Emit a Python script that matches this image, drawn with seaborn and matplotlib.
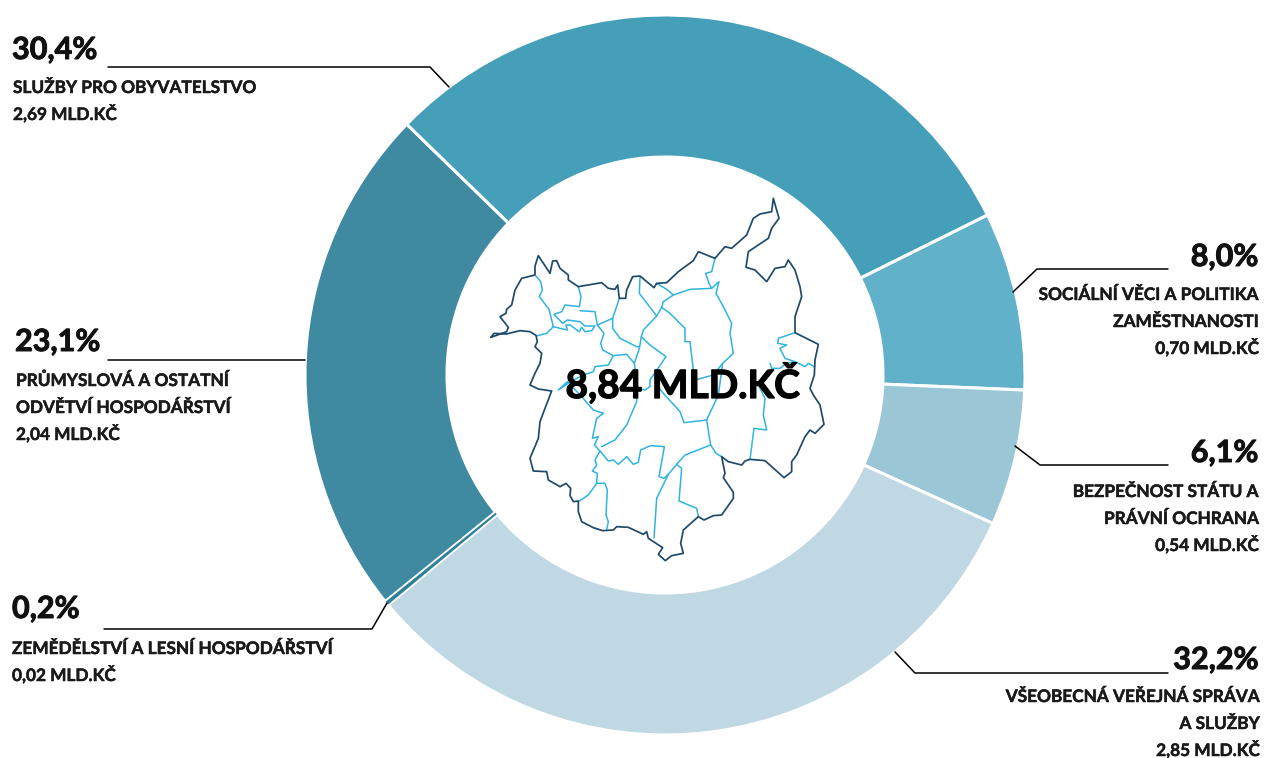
import matplotlib
matplotlib.use("Agg")
import matplotlib.pyplot as plt
import matplotlib.patheffects as pe
import seaborn as sns

W, H = 1265, 758

categories = ["SOCIÁLNÍ VĚCI A POLITIKA\nZAMĚSTNANOSTI", "BEZPEČNOST STÁTU A\nPRÁVNÍ OCHRANA",
              "VŠEOBECNÁ VEŘEJNÁ SPRÁVA\nA SLUŽBY", "ZEMĚDĚLSTVÍ A LESNÍ HOSPODÁŘSTVÍ",
              "PRŮMYSLOVÁ A OSTATNÍ\nODVĚTVÍ HOSPODÁŘSTVÍ", "SLUŽBY PRO OBYVATELSTVO"]
shares = [8.0, 6.1, 32.2, 0.2, 23.1, 30.4]
share_labels = ["8,0%", "6,1%", "32,2%", "0,2%", "23,1%", "30,4%"]
amounts = ["0,70 MLD.KČ", "0,54 MLD.KČ", "2,85 MLD.KČ", "0,02 MLD.KČ", "2,04 MLD.KČ", "2,69 MLD.KČ"]
colors = ["#62B1CB", "#9AC6D6", "#BFD8E3", "#2F7F96", "#3F8AA1", "#459FB8"]
total_label = "8,84 MLD.KČ"

# map outline, traced in zoom-crop units
outline = [(33,442),(42,430),(80,432),(95,428),(120,422),(150,425),(168,436),(172,455),(165,470),(185,490),
           (180,520),(165,550),(150,585),(175,597),(215,603),(195,655),(180,695),(175,745),(150,805),(160,843),
           (200,845),(205,870),(240,890),(258,880),(272,895),(270,917),(280,935),(295,933),(295,965),(305,995),
           (340,1013),(368,1022),(400,1020),(410,1010),(445,1012),(490,1033),(500,1025),(505,1045),(548,1073),
           (535,1093),(556,1112),(575,1097),(610,1090),(602,1060),(610,1020),(655,980),(672,990),(700,977),
           (725,975),(760,925),(760,907),(730,863),(735,850),(725,800),(745,815),(785,825),(795,813),(810,808),
           (855,812),(912,863),(935,845),(935,815),(950,795),(975,740),(990,720),(1005,730),(1032,703),(1020,645),
           (1000,615),(990,595),(1003,555),(1005,510),(1015,463),(945,428),(945,380),(965,320),(960,290),(945,240),(925,210),
           (915,230),(885,235),(860,275),(825,240),(798,232),(805,185),(865,145),(875,115),(897,85),(890,60),(880,25),
           (875,65),(840,72),(820,85),(800,135),(755,175),(735,170),(705,205),(655,185),(640,212),(595,245),(560,278),
           (530,280),(522,293),(480,258),(458,260),(440,300),(437,325),(418,325),(413,285),(405,298),(385,295),
           (365,278),(295,290),(265,270),(265,255),(240,235),(230,212),(218,213),(210,250),(175,197),(165,228),
           (165,255),(125,265),(105,300),(95,345),(80,358),(78,370),(60,380),(85,412),(80,425),(33,442)]
districts = [
    [(168,258),(182,275),(187,300),(178,320),(207,358),(220,410),(200,430),(172,437)],
    [(295,290),(303,320),(298,350),(255,345),(245,365),(222,373),(248,400),(262,390),(300,395),(315,408),
     (345,408),(335,422),(315,425),(305,412),(298,425),(270,405),(258,405),(262,420),(240,415),(220,410)],
    [(300,362),(345,365),(352,405),(398,385),(418,325)],
    [(352,405),(372,430),(362,460),(368,480),(400,497),(440,493),(463,520),(478,475),(484,440),(490,420),
     (530,378),(478,310),(480,262)],
    [(398,385),(398,415),(420,445),(470,470),(478,470)],
    [(463,520),(470,570),(470,635),(440,705),(405,750),(365,770)],
    [(400,497),(385,525),(345,530),(340,545),(310,555),(272,575),(235,600),(262,575),(305,620),(340,660),
     (370,670),(350,685),(337,745),(355,740),(343,765),(360,783),(345,810),(350,825),(337,843),(352,850),
     (350,880),(375,880),(382,900),(378,975),(385,995),(380,1020)],
    [(350,880),(325,915),(298,933)],
    [(360,783),(385,813),(400,810),(415,823),(440,800),(460,823),(475,817),(482,780),(512,767),(553,770),
     (537,860),(552,865),(565,853),(590,823),(615,795),(692,765),(680,690),(612,698),(600,665),(550,610),
     (530,585)],
    [(565,853),(530,925),(522,1045)],
    [(590,823),(605,835),(597,933),(650,955),(655,980)],
    [(692,765),(708,790),(725,800)],
    [(680,690),(715,615),(728,520),(760,490),(750,430),(755,400),(730,350),(708,310),(717,275),(695,295),
     (630,298),(580,315),(550,335),(545,352),(530,378)],
    [(545,352),(570,370),(615,415),(615,455),(630,455),(640,540),(645,570),(700,555),(728,520)],
    [(484,440),(510,465),(558,500),(510,570),(510,590),(495,600),(470,595)],
    [(580,315),(560,298),(530,280)],
    [(705,205),(695,245),(677,250),(687,280),(695,295)],
    [(945,428),(895,445),(893,460),(920,465),(900,475),(915,505),(945,515),(975,530),(985,520),(1003,530)],
    [(870,520),(875,535),(900,535),(920,520),(945,515)],
    [(830,575),(855,625),(850,675),(860,720),(822,715),(810,808)],
]

# share label: x, baseline y, ha; rows: baseline of first row; leader polyline
share_pos = [(1258,266,"right"),(1258,462,"right"),(1258,669,"right"),(12,618,"left"),(15,351,"left"),(12,59,"left")]
text_pos = [(1259,300),(1259,497),(1260,702),(12,654),(16,386),(13,93)]
leaders = [[(1168,269),(1037,269),(1013,292)],[(1168,465),(1040,465),(1015,446)],[(1168,673),(915,673),(895,652)],
           [(104,629),(372,629),(387,603)],[(108,360),(305,360)],[(108,67),(430,67),(449,87)]]

sns.set_theme(style="white")
plt.rcParams["font.family"] = ["Lato", "DejaVu Sans"]

def px(pts):
    return [p[0] for p in pts], [H - p[1] for p in pts]

def crop(pts):
    return [(480 + x / 3, 190 + y / 3) for x, y in pts]

def heavier(w, c):
    return [pe.withStroke(linewidth=w, foreground=c)]

fig = plt.figure(figsize=(W / 100, H / 100), dpi=100)
ax = fig.add_axes([0, 0, 1, 1])
wedges, _ = ax.pie(shares, colors=colors, startangle=26.4, counterclock=False, radius=360, center=(665, H - 375),
                   frame=True, wedgeprops=dict(width=142, edgecolor="white", linewidth=2.2))
# thin slice would vanish under the white edges
wedges[3].set_linewidth(0.5)
wedges[3].set_zorder(wedges[2].get_zorder() + 1)
ax.set_xlim(0, W)
ax.set_ylim(0, H)
ax.set_aspect("equal")
ax.axis("off")

for line in districts:
    x, y = px(crop(line))
    ax.plot(x, y, color="#2FB4E0", lw=1.1, zorder=3)
x, y = px(crop(outline))
ax.plot(x, y, color="#1F4A6B", lw=1.25, zorder=4)

for i, cat in enumerate(categories):
    x, y, ha = share_pos[i]
    ax.text(x, H - y, share_labels[i], ha=ha, va="baseline", fontsize=22, fontweight="bold", color="#111111",
            path_effects=heavier(0.7, "#111111"))
    tx, ty = text_pos[i]
    rows = cat.split("\n") + [amounts[i]]
    for j, row in enumerate(rows):
        ax.text(tx, H - (ty + j * 27), row, ha=ha, va="baseline", fontsize=12.4, fontweight="bold", color="#1a1a1a",
                path_effects=heavier(0.35, "#1a1a1a"))
    lx, ly = px(leaders[i])
    ax.plot(lx, ly, color="black", lw=1.1, zorder=2)

ax.text(682.5, H - 398, total_label, ha="center", va="baseline", fontsize=28, fontweight="bold", color="black",
        zorder=5, path_effects=heavier(0.9, "black"))

fig.savefig("out.png", dpi=100)
